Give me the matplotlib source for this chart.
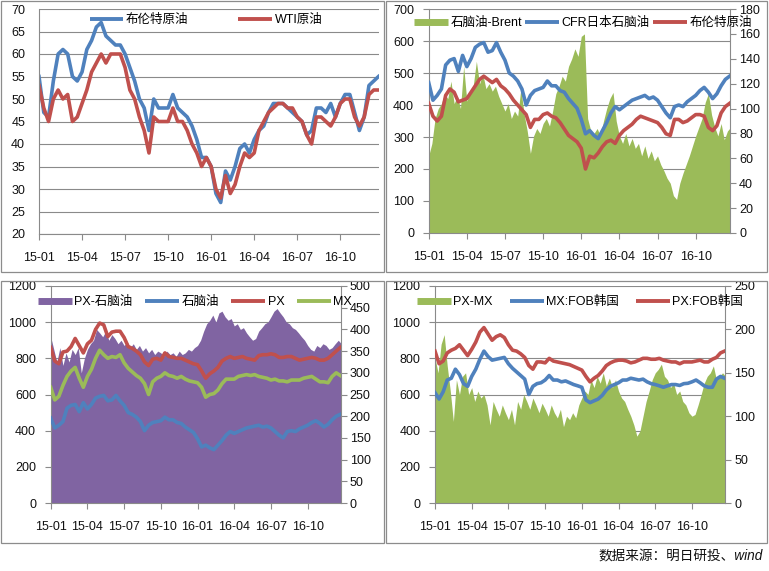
import numpy as np
import matplotlib.pyplot as plt
from matplotlib.lines import Line2D
from matplotlib.patches import Rectangle

plt.rcParams['font.family'] = ['Liberation Sans', 'Noto Sans CJK SC']

W, H = 769, 571

# x positions in months after 2015-01: lines read 3x per month, areas 4x per month
t_line = np.arange(72) / 3
t_area = np.arange(96) / 4
tick_pos = [0, 3, 6, 9, 12, 15, 18, 21]
tick_lab = ['15-01', '15-04', '15-07', '15-10', '16-01', '16-04', '16-07', '16-10']

# panel 1: crude oil, USD/bbl
brent = [55, 47, 46, 54, 60, 61, 60, 55, 54, 56, 61, 63, 66, 67, 64, 63, 62, 62,
         60, 57, 54, 50, 48, 43, 50, 48, 48, 48, 51, 48, 47, 46, 44, 41, 37, 37,
         35, 29, 27, 34, 32, 35, 39, 40, 38, 41, 43, 44, 47, 49, 49, 49, 48, 47,
         46, 45, 42, 43, 48, 48, 47, 49, 46, 49, 51, 51, 47, 43, 46, 53, 54, 55]
wti = [53, 48, 45, 50, 52, 50, 51, 45, 46, 49, 52, 56, 58, 60, 58, 60, 60, 60,
       57, 52, 50, 46, 43, 38, 46, 45, 45, 45, 48, 45, 45, 43, 40, 38, 35, 37,
       35, 30, 28, 33, 29, 31, 35, 38, 37, 38, 43, 45, 47, 48, 49, 49, 48, 48,
       46, 45, 42, 40, 46, 46, 45, 44, 46, 49, 50, 50, 46, 44, 46, 51, 52, 52]

# panel 2: naphtha CFR Japan and Brent in USD/t (left), spread (right)
naphtha_cfr = [470, 415, 430, 450, 525, 540, 545, 505, 555, 520, 545, 580, 590, 595, 565, 570, 595, 565,
               540, 500, 490, 475, 450, 400, 430, 445, 450, 455, 475, 460, 460, 445, 440, 420, 405, 390,
               355, 310, 320, 305, 295, 320, 345, 375, 395, 385, 395, 405, 415, 420, 425, 430, 420, 425,
               415, 395, 375, 360, 395, 400, 395, 410, 420, 430, 445, 455, 440, 420, 435, 460, 480, 490]
brent_t = [405, 365, 350, 365, 430, 450, 440, 410, 415, 420, 440, 460, 480, 490, 480, 470, 480, 460,
           450, 435, 415, 400, 385, 370, 330, 355, 355, 370, 375, 365, 360, 345, 325, 305, 295, 285,
           265, 200, 240, 235, 250, 270, 285, 290, 280, 305, 320, 330, 340, 355, 365, 360, 355, 350,
           345, 330, 310, 305, 355, 355, 345, 350, 360, 370, 370, 365, 330, 320, 335, 375, 395, 405]
naphtha_brent = [62, 72, 92, 100, 104, 112, 108, 122, 104, 110, 100, 134, 106, 112, 118, 138,
                 120, 128, 116, 120, 114, 118, 110, 104, 98, 104, 92, 98, 94, 116, 96, 82,
                 64, 78, 84, 80, 88, 92, 86, 98, 112, 118, 126, 122, 134, 140, 148, 142,
                 158, 160, 92, 82, 80, 84, 78, 90, 100, 108, 113, 90, 78, 72, 80, 70,
                 76, 68, 72, 62, 70, 60, 66, 58, 62, 55, 50, 44, 40, 30, 27, 40,
                 48, 55, 62, 70, 78, 85, 92, 105, 112, 95, 85, 78, 88, 75, 82, 85]

# panel 3: PX, MX (left, USD/t) and PX-naphtha spread (right)
px = [860, 785, 770, 835, 840, 865, 910, 870, 830, 880, 900, 960, 995, 985, 920, 945, 950, 950,
      915, 865, 855, 840, 820, 780, 760, 795, 800, 790, 830, 810, 805, 800, 800, 790, 780, 770,
      765, 730, 690, 715, 730, 750, 785, 800, 810, 800, 805, 810, 800, 795, 790, 815, 820, 820,
      825, 820, 805, 805, 810, 810, 800, 790, 795, 800, 805, 800, 790, 790, 800, 820, 840, 860]
mx = [640, 570, 590, 650, 700, 730, 750, 690, 640, 700, 740, 800, 845, 820, 800, 810, 805, 820,
      775, 745, 725, 705, 690, 660, 600, 670, 690, 700, 720, 705, 700, 690, 700, 685, 675, 670,
      665, 640, 585, 600, 605, 625, 660, 685, 685, 685, 700, 705, 710, 705, 710, 700, 695, 690,
      680, 685, 675, 675, 670, 680, 680, 680, 690, 695, 700, 685, 670, 670, 665, 700, 720, 705]
px_naphtha = [383, 354, 325, 358, 317, 346, 325, 354, 342, 358, 300, 333, 354, 367, 375, 400,
              392, 383, 396, 375, 388, 379, 367, 375, 363, 371, 358, 367, 354, 363, 350, 358,
              346, 354, 342, 350, 346, 338, 350, 342, 346, 338, 350, 342, 346, 354, 350, 358,
              363, 375, 396, 413, 421, 433, 417, 438, 442, 429, 421, 425, 408, 413, 400, 404,
              392, 383, 375, 379, 396, 404, 413, 417, 429, 442, 448, 438, 429, 417, 413, 404,
              400, 392, 383, 375, 363, 354, 350, 363, 358, 367, 363, 354, 358, 367, 375, 367]

# panel 4: PX and MX FOB Korea (left), PX-MX spread (right)
px_kr = [840, 770, 785, 830, 845, 855, 875, 845, 815, 850, 890, 945, 970, 935, 900, 920, 930, 915,
         875, 845, 840, 825, 805, 760, 740, 780, 780, 775, 800, 785, 780, 775, 770, 765, 755, 745,
         735, 700, 670, 690, 705, 730, 760, 775, 785, 790, 790, 785, 775, 780, 790, 800, 800, 795,
         795, 800, 790, 785, 780, 780, 770, 780, 780, 780, 785, 790, 780, 780, 795, 805, 830, 840]
mx_kr = [610, 575, 615, 680, 690, 740, 710, 660, 645, 700, 740, 795, 840, 810, 790, 795, 800, 805,
         770, 745, 725, 705, 685, 600, 645, 660, 665, 680, 705, 680, 680, 670, 675, 665, 655, 648,
         640, 570, 555, 565, 575, 595, 625, 645, 655, 665, 680, 680, 690, 685, 680, 685, 670, 660,
         655, 648, 640, 648, 655, 655, 650, 660, 662, 670, 680, 665, 648, 640, 640, 685, 700, 690]
px_mx = [167, 150, 183, 194, 158, 129, 94, 142, 125, 146, 150, 125, 133, 117, 129, 121,
         125, 113, 90, 117, 108, 100, 113, 104, 96, 108, 90, 117, 108, 125, 117, 108,
         121, 113, 104, 115, 108, 100, 113, 104, 98, 108, 88, 100, 96, 104, 98, 113,
         121, 129, 125, 142, 133, 146, 138, 150, 135, 144, 133, 142, 129, 121, 117, 108,
         100, 90, 77, 83, 100, 117, 129, 142, 150, 154, 160, 146, 142, 133, 138, 125,
         129, 117, 113, 104, 100, 102, 113, 125, 138, 146, 150, 158, 142, 146, 150, 146]

BLUE, RED, GREEN, PURPLE = '#4F81BD', '#C0504D', '#9BBB59', '#8064A2'
GRID = '#8A8A8A'
LABEL = '#111111'
LW = 2.6
FS = 9

fig = plt.figure(figsize=(W / 100, H / 100), dpi=100)


def rect(x0, y0, x1, y1):
    return [x0 / W, 1 - y1 / H, (x1 - x0) / W, (y1 - y0) / H]


def style_x(ax):
    ax.set_xlim(0, 23.7)
    ax.set_xticks(tick_pos, tick_lab)
    ax.tick_params(axis='x', direction='out', length=4, color=GRID, labelcolor=LABEL,
                   labelsize=FS, pad=9)


def legend(handles, labels, cx, cy, colsp):
    fig.legend(handles, labels, loc='center', bbox_to_anchor=(cx / W, 1 - cy / H),
               ncol=len(labels), frameon=False, fontsize=FS, handlelength=2.7,
               handletextpad=0.2, columnspacing=colsp, borderpad=0, borderaxespad=0)


def line_h(c):
    return Line2D([], [], color=c, lw=2.8, solid_capstyle='butt')


def area_h(c):
    return Line2D([], [], color=c, lw=5, solid_capstyle='butt')


def dual(box, llim, lstep, rlim, rstep, area, area_c, lines):
    ax = fig.add_axes(rect(*box))
    axr = ax.twinx()
    axl = fig.add_axes(rect(*box), sharex=ax, sharey=ax)
    axl.set_axis_off()
    ax.set_ylim(*llim)
    ax.set_yticks(np.arange(llim[0], llim[1] + 1, lstep))
    ax.grid(axis='y', color=GRID, lw=0.8)
    ax.set_axisbelow(True)
    for s in ax.spines.values():
        s.set_visible(False)
    ax.tick_params(axis='y', direction='out', length=4, color=GRID, labelcolor=LABEL,
                   labelsize=FS, pad=6.5)
    style_x(ax)
    axr.fill_between(t_area, 0, area, color=area_c, lw=0)
    axr.set_ylim(*rlim)
    axr.set_yticks(np.arange(rlim[0], rlim[1] + 1, rstep))
    axr.tick_params(axis='y', direction='out', length=4, color=GRID, labelcolor=LABEL,
                    labelsize=FS, pad=2.5)
    axr.spines['top'].set_visible(False)
    for k in ('left', 'right', 'bottom'):
        axr.spines[k].set_color(GRID)
    for vals, c in lines:
        axl.plot(t_line, vals, color=c, lw=LW)
    axl.set_xlim(0, 23.7)
    return ax


# panel 1
ax1 = fig.add_axes(rect(39, 9, 379, 234))
ax1.plot(t_line, brent, color=BLUE, lw=LW)
ax1.plot(t_line, wti, color=RED, lw=LW)
ax1.set_ylim(20, 70)
ax1.set_yticks(np.arange(20, 71, 5))
ax1.grid(axis='y', color=GRID, lw=0.8)
ax1.set_axisbelow(True)
ax1.spines['top'].set_visible(False)
ax1.spines['right'].set_visible(False)
ax1.spines['left'].set_color(GRID)
ax1.spines['bottom'].set_color(GRID)
ax1.tick_params(axis='y', direction='out', length=0, labelcolor=LABEL, labelsize=FS, pad=10)
style_x(ax1)
legend([line_h(BLUE), line_h(RED)], ['布伦特原油', 'WTI原油'], 206, 20, 4.0)

# panel 2
dual((428.7, 9, 730, 233), (0, 700), 100, (0, 180), 20, naphtha_brent, GREEN,
     [(naphtha_cfr, BLUE), (brent_t, RED)])
legend([area_h(GREEN), line_h(BLUE), line_h(RED)], ['石脑油-Brent', 'CFR日本石脑油', '布伦特原油'],
       583, 23, 0.25)

# panel 3
dual((50.7, 286, 340.7, 503), (0, 1200), 200, (0, 500), 50, px_naphtha, PURPLE,
     [(naphtha_cfr, BLUE), (px, RED), (mx, GREEN)])
legend([area_h(PURPLE), line_h(BLUE), line_h(RED), line_h(GREEN)], ['PX-石脑油', '石脑油', 'PX', 'MX'],
       195, 302, 1.0)

# panel 4
dual((435, 286, 725, 503), (0, 1200), 200, (0, 250), 50, px_mx, GREEN,
     [(mx_kr, BLUE), (px_kr, RED)])
legend([area_h(GREEN), line_h(BLUE), line_h(RED)], ['PX-MX', 'MX:FOB韩国', 'PX:FOB韩国'],
       580, 302, 1.35)

# panel frames
for x0, y0, x1, y1 in [(1, 1, 384, 272), (386, 1, 767, 272), (1, 281, 384, 543), (386, 281, 767, 543)]:
    fig.patches.append(Rectangle((x0 / W, 1 - y1 / H), (x1 - x0) / W, (y1 - y0) / H,
                                 transform=fig.transFigure, fill=False, ec='#8C8C8C', lw=0.9))

fig.text(763 / W, 1 - 556 / H, '数据来源：明日研投、wind', ha='right', va='center',
         fontsize=9.8, style='italic', color='#111111')

fig.savefig('out.png', dpi=100, facecolor='white')
